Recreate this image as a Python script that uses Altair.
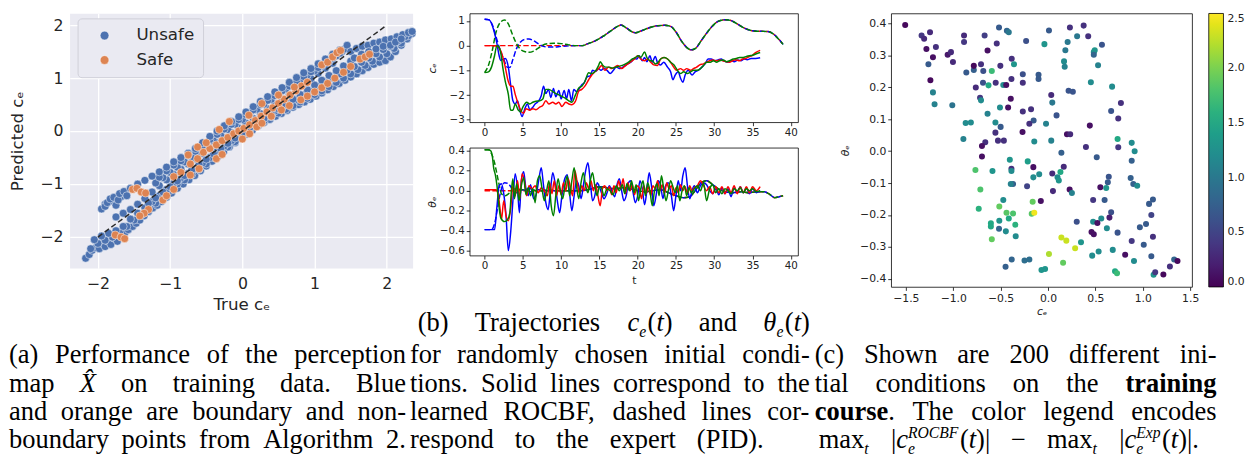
import altair as alt
import pandas as pd

# ======================= DATA =======================
# ---- panel (a): predicted vs true c_e (point bands) ----
unsafe_lower = [(-2.17,-2.40),(-2.12,-2.33),(-2.08,-2.25),(-2.03,-2.20),(-1.98,-2.22),(-1.95,-2.12),(-1.90,-2.18),(-1.86,-2.08),(-1.82,-2.14),(-1.78,-2.02),(-1.73,-2.08),(-1.68,-1.98),(-1.63,-1.93),(-1.58,-1.86),(-1.52,-1.80),(-1.47,-1.74),(-1.42,-1.68),(-1.36,-1.60),(-1.30,-1.52),(-1.24,-1.45),(-1.18,-1.40),(-1.12,-1.33),(-1.05,-1.25),(-0.98,-1.17),(-0.90,-1.08),(-0.82,-1.00),(-0.74,-0.92),(-0.66,-0.84),(-0.58,-0.75),(-0.50,-0.66),(-0.42,-0.57),(-0.34,-0.48),(-0.26,-0.39),(-0.18,-0.30),(-0.10,-0.22),(-0.02,-0.14),(0.06,-0.06),(0.14,0.02),(0.22,0.10),(0.30,0.16),(0.38,0.22),(0.46,0.28),(0.54,0.33),(0.62,0.39),(0.70,0.45),(0.78,0.50),(0.86,0.55),(0.94,0.60),(1.02,0.66),(1.10,0.72),(1.18,0.78),(1.26,0.84),(1.34,0.90),(1.42,0.96),(1.50,1.02),(1.58,1.08),(1.66,1.14),(1.74,1.20),(1.82,1.26),(1.90,1.30),(1.98,1.33),(2.05,1.40),(2.12,1.50),(2.20,1.62),(2.28,1.74),(2.35,1.84)]
unsafe_fill_a = [(-2.10,-2.22),(-2.00,-2.12),(-1.90,-2.06),(-1.80,-2.00),(-1.70,-1.92),(-1.60,-1.80),(-1.50,-1.68),(-1.40,-1.58),(-1.30,-1.46),(-1.20,-1.36),(-1.10,-1.24),(-1.00,-1.12),(-0.90,-1.00),(-0.80,-0.92),(-0.70,-0.82),(-0.60,-0.72),(-0.50,-0.62),(-0.40,-0.50),(-0.30,-0.40),(-0.20,-0.30),(-0.10,-0.20),(0.00,-0.10),(0.10,0.00),(0.20,0.10),(0.30,0.19),(0.40,0.27),(0.50,0.34),(0.60,0.41),(0.70,0.48),(0.80,0.55),(0.90,0.62),(1.00,0.69),(1.10,0.76),(1.20,0.84),(1.30,0.92),(1.40,1.00),(1.50,1.08),(1.60,1.16),(1.70,1.24),(1.80,1.32),(1.90,1.40),(2.00,1.46),(2.10,1.56),(2.20,1.66),(2.30,1.80)]
unsafe_lower2 = [(-2.05,-2.05),(-1.95,-1.98),(-1.85,-1.93),(-1.75,-1.88),(-1.65,-1.80),(-1.55,-1.66),(-1.45,-1.55),(-1.35,-1.45),(-1.25,-1.33),(-1.15,-1.22),(-1.05,-1.10),(-0.95,-0.98),(-0.85,-0.88),(-0.75,-0.80),(-0.65,-0.70),(-0.55,-0.60),(-0.45,-0.50),(-0.35,-0.38),(-0.25,-0.28),(-0.15,-0.18),(-0.05,-0.08),(0.05,0.02),(0.15,0.12),(0.25,0.22),(0.35,0.30),(0.45,0.38),(0.55,0.45),(0.65,0.52),(0.75,0.60),(0.85,0.68),(0.95,0.76),(1.05,0.84),(1.15,0.92),(1.25,1.00),(1.35,1.08),(1.45,1.15),(1.55,1.22),(1.65,1.30),(1.75,1.38),(1.85,1.46),(1.95,1.54),(2.05,1.60),(2.15,1.70),(2.25,1.78)]
unsafe_fill_c = [(-1.30,-1.36),(-1.20,-1.26),(-1.10,-1.15),(-1.00,-1.05),(-0.90,-0.94),(-0.80,-0.84),(-0.70,-0.73),(-0.60,-0.63),(-0.50,-0.53),(-0.40,-0.43),(-0.30,-0.33),(-0.20,-0.23),(-0.10,-0.13),(0.00,-0.03),(0.10,0.06),(0.20,0.15),(0.30,0.24),(0.40,0.33),(0.50,0.42),(0.60,0.51),(0.70,0.60),(0.80,0.69),(0.90,0.78),(1.00,0.87),(1.10,0.96),(1.20,1.05),(1.30,1.14),(1.40,1.23),(1.50,1.32)]
unsafe_mid = [(-1.75,-1.62),(-1.65,-1.55),(-1.55,-1.48),(-1.45,-1.38),(-1.35,-1.27),(-1.25,-1.15),(-1.15,-1.03),(-1.05,-0.92),(-0.95,-0.82),(-0.85,-0.72),(-0.75,-0.62),(-0.65,-0.52),(-0.55,-0.42),(-0.45,-0.32),(-0.35,-0.22),(-0.25,-0.12),(-0.15,-0.03),(-0.05,0.06),(0.05,0.15),(0.15,0.24),(0.25,0.33),(0.35,0.42),(0.45,0.51),(0.55,0.60),(0.65,0.69),(0.75,0.79),(0.85,0.89),(0.95,0.99),(1.05,1.09),(1.15,1.19),(1.25,1.28)]
unsafe_upper2 = [(-1.20,-0.98),(-1.10,-0.88),(-1.00,-0.78),(-0.90,-0.68),(-0.80,-0.58),(-0.70,-0.48),(-0.60,-0.38),(-0.50,-0.28),(-0.40,-0.18),(-0.30,-0.08),(-0.20,0.03),(-0.10,0.13),(0.00,0.22),(0.10,0.31),(0.20,0.41),(0.30,0.51),(0.40,0.60),(0.50,0.69),(0.60,0.79),(0.70,0.88),(0.80,0.97),(0.90,1.06),(1.00,1.14),(1.10,1.23),(1.20,1.32),(1.30,1.42),(1.38,1.50)]
unsafe_fill_b = [(-1.90,-1.38),(-1.80,-1.32),(-1.75,-1.40),(-1.68,-1.24),(-1.62,-1.18),(-1.15,-0.87),(-1.05,-0.75),(-0.95,-0.64),(-0.85,-0.56),(-0.75,-0.46),(-0.65,-0.38),(-0.55,-0.27),(-0.45,-0.16),(-0.35,-0.06),(-0.25,0.04),(-0.15,0.13),(-0.05,0.22),(0.05,0.31),(0.15,0.40),(0.25,0.50),(0.35,0.58),(0.45,0.67),(0.55,0.76),(0.65,0.85),(0.75,0.94),(0.85,1.03),(0.95,1.12),(1.05,1.20),(1.15,1.30),(1.25,1.38),(1.35,1.47),(1.42,1.55)]
unsafe_upper = [(-1.95,-1.47),(-1.90,-1.42),(-1.87,-1.35),(-1.83,-1.28),(-1.78,-1.25),(-1.72,-1.30),(-1.70,-1.18),(-1.64,-1.14),(-1.60,-1.22),(-1.55,-1.08),(-1.45,-1.00),(-1.35,-0.93),(-1.25,-0.85),(-1.15,-0.77),(-1.05,-0.68),(-0.95,-0.58),(-0.85,-0.50),(-0.75,-0.42),(-0.65,-0.33),(-0.55,-0.22),(-0.45,-0.10),(-0.35,0.00),(-0.25,0.10),(-0.15,0.18),(-0.05,0.27),(0.05,0.36),(0.15,0.46),(0.25,0.56),(0.35,0.65),(0.45,0.74),(0.55,0.82),(0.65,0.92),(0.75,1.01),(0.85,1.10),(0.95,1.18),(1.05,1.27),(1.15,1.36),(1.25,1.45),(1.35,1.53),(1.45,1.62)]
unsafe_right = [(1.50,1.50),(1.58,1.56),(1.66,1.60),(1.74,1.62),(1.82,1.66),(1.90,1.68),(1.98,1.72),(2.06,1.74),(2.14,1.78),(2.22,1.82),(2.30,1.86),(2.35,1.88),(1.55,1.38),(1.65,1.45),(1.75,1.50),(1.85,1.55),(1.95,1.60),(2.05,1.62),(2.12,1.68),(2.20,1.74)]
safe_diag = [(-0.95,-0.86),(-0.85,-0.78),(-0.72,-0.62),(-0.62,-0.52),(-0.54,-0.40),(-0.45,-0.33),(-0.36,-0.26),(-0.28,-0.18),(-0.20,-0.12),(-0.12,-0.05),(-0.05,0.00),(0.02,0.05),(0.10,0.12),(0.18,0.20),(0.26,0.28),(0.34,0.36),(0.42,0.44),(0.50,0.52),(0.58,0.60),(0.66,0.68),(0.74,0.76),(0.82,0.85),(0.90,0.92)]
safe_upper = [(-0.75,-0.45),(-0.62,-0.30),(-0.50,-0.22),(-0.32,0.03),(-0.18,0.18),(0.09,0.30),(0.27,0.52),(0.50,0.68),(0.72,0.83),(1.10,1.25),(1.18,1.30),(1.25,1.40),(1.31,1.48),(1.36,1.52)]
safe_lower = [(0.00,-0.15),(0.10,-0.05),(0.20,0.08),(0.27,0.15),(0.40,0.28),(0.54,0.40),(0.65,0.48),(0.81,0.59),(0.90,0.66),(1.00,0.74),(1.10,0.82),(1.18,0.90),(1.28,1.00),(1.40,1.11),(1.50,1.22),(1.63,1.36),(1.70,1.40),(1.76,1.45)]
safe_left = [(-1.52,-1.10),(-1.46,-1.08),(-1.40,-1.15),(-1.34,-1.17),(-1.30,-1.48),(-1.36,-1.55),(-1.42,-1.60),(-1.76,-1.96),(-1.68,-2.00),(-1.63,-2.03),(-1.10,-1.30),(-1.05,-1.22),(-0.95,-1.10),(-0.72,-0.83),(-0.60,-0.71),(-0.36,-0.52),(-0.28,-0.44)]
diag_x = [-2.0, 2.0]
diag_y = [-2.0, 2.0]
classes = ["Unsafe", "Safe"]

# ---- panel (b): trajectories c_e(t), theta_e(t) ----
ce_blue_solid = [(0,1.07),(0.6,1.04),(1.2,0.62),(1.6,0.1),(1.9,-0.41),(2.1,-0.6),(2.4,-0.55),(2.7,-0.52),(3.1,-0.87),(3.4,-1.58),(3.7,-2.23),(4.0,-2.36),(4.3,-2.23),(4.6,-2.61),(4.9,-2.87),(5.2,-2.6),(5.6,-2.36),(5.9,-2.59),(6.3,-2.49),(6.6,-2.36),(6.9,-2.29),(7.4,-2.03),(7.7,-1.64),(8.0,-1.94),(8.35,-1.77),(8.65,-2.1),(9.0,-1.73),(9.3,-2.07),(9.7,-1.81),(10.0,-2.16),(10.4,-1.81),(10.7,-2.16),(11.0,-1.77),(11.35,-2.23),(11.65,-1.77),(12.0,-1.86),(12.3,-1.77),(12.7,-1.58),(13.0,-1.51),(13.4,-1.26),(13.8,-1.22),(14.1,-1.0),(14.5,-1.04),(14.9,-0.93),(15.2,-1.0),(15.6,-0.91),(16.0,-1.0),(16.4,-1.13),(16.8,-1.01),(17.2,-0.87),(17.7,-0.93),(18.2,-0.84),(18.7,-0.74),(19.1,-0.67),(19.6,-0.52),(19.9,-0.54),(20.2,-0.41),(20.6,-0.61),(20.9,-0.48),(21.2,-0.65),(21.6,-0.41),(21.9,-0.67),(22.3,-0.44),(22.6,-0.70),(23.0,-0.78),(23.4,-0.67),(23.9,-0.87),(24.3,-1.06),(24.6,-1.38),(24.9,-1.19),(25.3,-1.06),(25.6,-1.32),(25.9,-1.48),(26.2,-1.19),(26.6,-1.0),(27.1,-1.19),(27.5,-1.06),(27.9,-1.0),(28.4,-0.87),(28.8,-0.74),(29.2,-0.54),(29.6,-0.54),(30.1,-0.61),(30.5,-0.58),(30.9,-0.54),(31.3,-0.63),(31.8,-0.67),(32.2,-0.61),(32.6,-0.65),(33.1,-0.58),(33.5,-0.61),(33.9,-0.54),(34.3,-0.57),(34.8,-0.52),(35.4,-0.52),(36.0,-0.49)]
ce_red_solid = [(0,0.0),(0.8,0.0),(1.6,-0.02),(2.2,-0.28),(2.65,-0.8),(3.1,-1.45),(3.4,-1.64),(3.7,-1.64),(4.0,-1.97),(4.4,-2.36),(4.7,-2.61),(5.1,-2.74),(5.4,-2.55),(5.9,-2.61),(6.3,-2.55),(6.7,-2.59),(7.2,-2.49),(7.6,-2.42),(8.0,-2.23),(8.4,-2.36),(8.9,-2.29),(9.3,-2.36),(9.7,-2.29),(10.1,-2.46),(10.6,-2.29),(11.0,-2.36),(11.4,-2.39),(11.9,-2.23),(12.3,-1.84),(12.7,-1.77),(13.1,-1.64),(13.6,-1.38),(14.0,-1.19),(14.4,-1.06),(14.9,-0.93),(15.3,-0.80),(15.7,-1.0),(16.2,-0.87),(16.6,-0.93),(17.0,-0.87),(17.4,-0.80),(17.9,-0.93),(18.3,-0.84),(18.7,-0.74),(19.1,-0.65),(19.6,-0.54),(20.0,-0.41),(20.4,-0.54),(20.9,-0.61),(21.3,-0.54),(21.7,-0.67),(22.1,-0.78),(22.6,-0.80),(23.0,-0.54),(23.4,-0.48),(23.9,-0.54),(24.3,-0.67),(24.7,-0.87),(25.1,-1.0),(25.6,-0.93),(26.0,-1.0),(26.4,-0.93),(26.9,-1.0),(27.3,-0.93),(27.7,-0.87),(28.1,-0.78),(28.6,-0.74),(29.0,-0.67),(29.4,-0.61),(29.8,-0.58),(30.3,-0.61),(30.7,-0.58),(31.1,-0.61),(31.6,-0.65),(32.0,-0.67),(32.4,-0.61),(32.8,-0.57),(33.3,-0.61),(33.7,-0.54),(34.1,-0.52),(34.6,-0.44),(35.0,-0.39),(35.4,-0.28),(36.0,-0.19)]
ce_green_solid = [(0,-1.09),(0.5,-1.06),(0.9,-0.87),(1.3,-0.41),(1.6,0.0),(1.8,-0.03),(2.1,-0.28),(2.4,-0.93),(2.7,-1.45),(3.1,-1.97),(3.4,-2.61),(3.7,-2.61),(4.0,-2.36),(4.4,-2.61),(4.7,-2.68),(5.0,-2.49),(5.5,-2.29),(5.9,-2.36),(6.3,-2.29),(6.7,-2.25),(7.2,-2.23),(7.6,-2.16),(8.0,-1.77),(8.4,-1.77),(8.9,-1.86),(9.3,-1.94),(9.7,-1.99),(10.2,-2.07),(10.6,-2.14),(11.0,-2.23),(11.4,-2.29),(11.9,-1.97),(12.3,-1.71),(12.7,-1.64),(13.1,-1.45),(13.6,-1.10),(14.0,-1.13),(14.4,-1.06),(14.9,-0.80),(15.1,-0.65),(15.4,-0.78),(15.8,-0.87),(16.3,-0.87),(16.7,-0.91),(17.1,-0.87),(17.5,-0.84),(18.0,-0.80),(18.4,-0.74),(18.8,-0.67),(19.3,-0.54),(19.7,-0.48),(20.1,-0.41),(20.4,-0.48),(20.9,-0.26),(21.2,-0.48),(21.6,-0.61),(21.9,-0.61),(22.3,-0.74),(22.6,-0.70),(23.0,-0.54),(23.5,-0.48),(23.9,-0.54),(24.3,-0.67),(24.75,-0.78),(25.2,-1.0),(25.6,-1.13),(26.0,-1.06),(26.5,-1.13),(26.9,-1.06),(27.3,-1.0),(27.75,-1.0),(28.2,-0.93),(28.6,-0.80),(29.0,-0.67),(29.5,-0.67),(29.9,-0.61),(30.3,-0.67),(30.7,-0.61),(31.2,-0.58),(31.6,-0.65),(32.0,-0.61),(32.5,-0.54),(32.9,-0.52),(33.3,-0.48),(33.8,-0.48),(34.2,-0.44),(34.6,-0.41),(35.0,-0.39),(35.6,-0.32),(36.0,-0.28)]
ce_red_dash_head = [(0,0.0),(12.0,0.0)]
ce_blue_dash_head = [(0,1.07),(0.5,1.05),(1.0,0.85),(1.5,0.35),(2.0,-0.15),(2.5,-0.55),(3.0,-0.88),(3.3,-0.88),(3.7,-0.55),(4.2,-0.10),(4.7,0.15),(5.2,0.25),(5.8,0.27),(6.4,0.20),(7.0,0.08),(7.6,-0.02),(8.3,-0.06),(9.0,-0.06),(10.0,-0.03),(11.0,-0.01),(12.0,0.0)]
ce_green_dash_head = [(0,-1.09),(0.5,-0.8),(1.0,-0.2),(1.5,0.55),(2.0,0.92),(2.6,1.04),(3.1,0.88),(3.6,0.48),(4.1,0.12),(4.6,-0.12),(5.2,-0.24),(5.8,-0.27),(6.4,-0.22),(7.0,-0.10),(7.6,0.02),(8.3,0.08),(9.0,0.10),(10.0,0.08),(11.0,0.03),(12.0,0.0)]
ce_dash_tail = [(12.8,0.0),(13.5,0.08),(14.5,0.2),(15.5,0.38),(16.5,0.6),(17.5,0.8),(17.8,0.83),(18.5,0.72),(19.3,0.55),(19.7,0.52),(20.5,0.6),(21.5,0.72),(22.5,0.8),(23.5,0.82),(24.3,0.78),(25.0,0.55),(25.8,0.15),(26.5,-0.1),(27.0,-0.17),(27.6,-0.1),(28.3,0.2),(29.0,0.5),(29.8,0.8),(30.5,0.98),(31.5,1.05),(32.3,1.0),(33.0,0.88),(34.0,0.7),(35.0,0.6),(36.0,0.58),(37.0,0.57),(37.6,0.5),(38.3,0.3),(39.0,0.05)]

th_blue_solid = [(0,-0.39),(0.5,-0.39),(1.0,-0.39),(1.3,-0.39),(1.6,-0.17),(1.9,0.05),(2.2,0.07),(2.5,-0.03),(2.8,-0.25),(3.1,-0.60),(3.4,-0.42),(3.7,-0.10),(4.0,0.17),(4.3,0.02),(4.55,-0.22),(4.8,0.10),(5.1,0.19),(5.4,0.02),(5.7,-0.05),(6.0,0.06),(6.4,-0.08),(6.8,-0.02),(7.1,0.12),(7.4,0.23),(7.7,0.05),(8.0,-0.12),(8.3,-0.19),(8.6,0.0),(8.9,0.18),(9.2,0.08),(9.5,-0.10),(9.8,-0.22),(10.1,-0.05),(10.4,0.10),(10.8,0.16),(11.1,-0.02),(11.4,-0.20),(11.7,-0.05),(12.0,0.10),(12.3,0.05),(12.6,-0.08),(12.9,0.05),(13.2,0.20),(13.5,0.28),(13.8,0.10),(14.1,-0.10),(14.4,-0.05),(14.7,0.08),(15.0,0.04),(15.3,-0.03),(15.6,-0.08),(16.0,-0.02),(16.3,0.05),(16.6,0.0),(17.0,-0.06),(17.3,0.06),(17.6,0.12),(17.9,0.0),(18.2,-0.10),(18.5,-0.05),(18.8,0.08),(19.1,0.10),(19.4,-0.02),(19.7,-0.12),(20.0,-0.05),(20.3,0.10),(20.6,0.02),(20.9,-0.14),(21.2,0.0),(21.5,0.18),(21.8,0.05),(22.1,-0.15),(22.4,-0.05),(22.7,0.10),(23.0,0.05),(23.3,-0.08),(23.6,0.04),(24.0,0.08),(24.4,-0.05),(24.7,-0.20),(25.0,-0.05),(25.3,0.10),(25.6,0.0),(25.9,0.15),(26.2,0.23),(26.5,0.05),(26.8,-0.08),(27.1,0.0),(27.4,0.05),(27.8,-0.02),(28.2,0.05),(28.6,0.08),(29.0,0.06),(29.4,0.0),(29.8,-0.03),(30.2,0.02),(30.6,-0.04),(31.0,0.03),(31.4,-0.03),(31.8,0.02),(32.2,-0.06),(32.6,0.03),(33.0,-0.02),(33.4,0.04),(33.8,-0.02),(34.2,0.03),(34.6,-0.03),(35.0,0.02),(35.5,-0.02),(36.0,0.0)]
th_red_solid = [(0,0.01),(0.5,0.01),(1.0,0.01),(1.5,0.01),(1.8,-0.05),(2.0,-0.17),(2.2,-0.29),(2.5,-0.10),(2.8,-0.25),(3.1,-0.30),(3.4,-0.18),(3.7,0.05),(4.0,-0.05),(4.3,0.10),(4.6,-0.08),(4.9,0.17),(5.2,0.10),(5.5,-0.05),(5.8,0.05),(6.2,0.02),(6.6,0.05),(7.0,-0.02),(7.4,0.03),(7.8,0.0),(8.2,-0.05),(8.5,0.08),(8.8,-0.03),(9.1,0.10),(9.4,-0.05),(9.7,0.05),(10.0,-0.04),(10.3,0.08),(10.6,0.0),(10.9,0.12),(11.2,0.04),(11.5,-0.05),(11.8,0.20),(12.1,0.08),(12.4,-0.03),(12.7,0.05),(13.0,0.0),(13.3,0.08),(13.6,0.02),(13.9,0.10),(14.2,0.0),(14.5,0.06),(14.8,-0.05),(15.1,-0.15),(15.4,0.02),(15.7,0.05),(16.0,0.0),(16.3,0.04),(16.6,-0.04),(16.9,0.05),(17.2,-0.02),(17.5,0.10),(17.8,0.02),(18.1,0.12),(18.4,-0.03),(18.7,0.08),(19.0,0.0),(19.3,0.06),(19.6,-0.04),(19.9,0.05),(20.2,0.03),(20.5,-0.08),(20.8,0.05),(21.1,-0.03),(21.4,0.04),(21.7,-0.05),(22.0,0.05),(22.3,0.02),(22.6,0.10),(22.9,0.0),(23.2,0.06),(23.5,-0.03),(23.8,0.08),(24.1,0.02),(24.4,0.05),(24.7,-0.05),(25.0,0.03),(25.3,-0.02),(25.6,0.06),(25.9,0.0),(26.2,0.04),(26.5,-0.03),(26.8,0.05),(27.1,0.0),(27.4,0.03),(27.8,0.05),(28.2,0.10),(28.6,0.05),(29.0,0.0),(29.4,0.04),(29.8,-0.03),(30.2,0.04),(30.6,-0.02),(31.0,0.04),(31.4,-0.03),(31.8,0.04),(32.2,-0.02),(32.6,0.05),(33.0,-0.03),(33.4,0.04),(33.8,-0.02),(34.2,0.04),(34.6,-0.02),(35.0,0.04),(35.5,0.0),(36.0,0.04)]
th_green_solid = [(0,0.41),(0.5,0.41),(0.8,0.40),(1.0,0.35),(1.2,0.22),(1.4,0.16),(1.6,0.06),(1.9,-0.17),(2.1,-0.27),(2.6,-0.31),(3.0,-0.29),(3.3,-0.22),(3.5,0.0),(3.7,0.12),(3.9,-0.08),(4.2,0.07),(4.5,-0.10),(4.8,0.05),(5.1,0.13),(5.4,-0.04),(5.7,0.03),(6.0,-0.05),(6.3,0.02),(6.6,-0.12),(6.9,0.10),(7.2,0.15),(7.5,0.02),(7.8,-0.10),(8.1,0.0),(8.4,0.10),(8.7,-0.15),(9.0,-0.25),(9.3,-0.05),(9.6,0.12),(9.9,0.0),(10.2,-0.08),(10.5,0.05),(10.8,0.15),(11.1,-0.05),(11.4,0.10),(11.7,0.23),(12.0,0.05),(12.3,-0.08),(12.6,0.08),(12.9,0.18),(13.2,0.05),(13.5,-0.02),(13.8,0.10),(14.1,0.18),(14.4,0.05),(14.7,-0.05),(15.0,0.04),(15.3,0.02),(15.6,-0.05),(16.0,0.02),(16.4,0.0),(16.8,-0.04),(17.2,0.05),(17.6,0.0),(18.0,0.06),(18.3,-0.03),(18.6,0.07),(18.9,0.0),(19.2,0.10),(19.5,-0.02),(19.8,0.06),(20.1,-0.10),(20.4,0.02),(20.7,0.10),(21.0,-0.05),(21.3,0.08),(21.6,0.0),(21.9,-0.15),(22.2,0.0),(22.5,0.07),(22.8,-0.05),(23.1,0.15),(23.4,0.02),(23.7,-0.10),(24.0,0.0),(24.3,0.10),(24.6,0.04),(24.9,-0.02),(25.2,0.05),(25.5,-0.10),(25.8,0.0),(26.1,0.05),(26.4,-0.05),(26.7,0.03),(27.0,-0.02),(27.4,0.02),(27.8,0.05),(28.2,0.0),(28.6,0.08),(29.0,-0.10),(29.4,0.02),(29.8,0.06),(30.2,-0.02),(30.6,0.02),(31.0,-0.03),(31.4,0.02),(31.8,0.0),(32.2,-0.03),(32.6,0.02),(33.0,0.0),(33.4,0.03),(33.8,-0.02),(34.2,0.02),(34.6,0.0),(35.0,0.02),(35.5,-0.01),(36.0,0.0)]
th_red_dash_head = [(0,0.0),(12.0,0.0)]
th_blue_dash_head = [(0,-0.39),(0.9,-0.39),(1.4,-0.30),(1.7,-0.17),(2.1,-0.01),(2.6,0.08),(3.1,0.07),(3.6,0.02),(4.2,-0.02),(5.0,0.01),(6.0,-0.01),(7.0,0.01),(8.0,0.0),(10.0,0.0),(12.0,0.0)]
th_green_dash_head = [(0,0.41),(0.5,0.41),(0.9,0.37),(1.3,0.28),(1.6,0.17),(1.9,0.06),(2.2,-0.03),(2.7,-0.05),(3.3,-0.02),(4.0,0.02),(5.0,0.01),(6.0,0.02),(7.0,-0.01),(8.0,0.01),(10.0,0.0),(12.0,0.0)]
th_dash_tail = [(12.5,0.0),(14.0,0.02),(15.0,0.04),(16.0,0.03),(17.0,0.02),(18.0,0.03),(19.0,0.02),(20.0,0.0),(21.0,-0.01),(22.0,0.0),(23.0,0.01),(24.0,-0.02),(25.0,-0.05),(26.0,-0.07),(26.8,-0.06),(27.5,0.0),(28.3,0.08),(29.0,0.10),(29.8,0.06),(30.5,0.02),(31.5,-0.01),(32.5,-0.02),(33.5,-0.01),(34.5,-0.02),(35.5,-0.01),(36.5,-0.01),(37.3,-0.04),(37.9,-0.07),(38.5,-0.06),(39.0,-0.05)]

# ---- panel (c): 200 initial conditions (c_e, theta_e, colour value) ----
c_points = [(-1.507,0.395,0.05),(-1.334,0.362,0.4),(-1.307,0.352,0.3),(-1.245,0.372,0.3),(-1.283,0.320,0.1),(-1.183,0.326,0.35),(-1.214,0.294,0.1),(-1.262,0.272,0.7),(-1.059,0.302,0.15),(-1.024,0.310,0.3),(-1.003,0.279,0.3),(-1.241,0.222,0.05),(-1.214,0.184,1.1),(-1.197,0.147,1.1),(-1.010,0.144,0.95),(-0.886,0.362,0.3),(-0.886,0.342,0.4),(-0.862,0.246,0.7),(-0.783,0.254,0.75),(-0.783,0.267,0.05),(-0.707,0.272,0.35),(-0.762,0.199,0.3),(-0.717,0.167,0.4),(-0.707,0.159,1.2),(-0.683,0.251,0.6),(-0.686,0.214,0.6),(-0.669,0.362,0.45),(-0.638,0.315,0.1),(-0.593,0.251,1.7),(-0.628,0.206,1.5),(-0.541,0.337,0.35),(-0.517,0.387,0.7),(-0.503,0.267,0.35),(-0.552,0.214,0.35),(-0.472,0.207,1.2),(-0.441,0.207,0.1),(-0.434,0.377,0.8),(-0.414,0.372,1.0),(-0.383,0.289,0.35),(-0.359,0.272,1.3),(-0.386,0.226,0.35),(-0.393,0.164,0.1),(-0.421,0.137,0.1),(-0.507,0.137,1.2),(-0.638,0.117,1.1),(-0.869,0.088,1.2),(-0.814,0.090,1.2),(-0.893,0.038,1.1),(-0.555,0.090,1.2),(-0.500,0.076,0.7),(-0.555,0.058,0.35),(-0.528,0.033,0.35),(-0.466,0.033,0.35),(-0.662,0.028,0.35),(-0.697,0.016,0.1),(-0.697,-0.017,0.1),(-0.766,-0.059,1.8),(-0.714,-0.120,1.8),(-0.731,-0.180,1.6),(-0.586,-0.062,1.3),(-0.403,-0.027,1.3),(-0.386,-0.055,0.35),(-0.386,-0.062,1.2),(-0.369,-0.103,0.75),(-0.393,-0.103,1.1),(-0.472,-0.153,1.2),(-0.514,-0.173,1.9),(-0.603,-0.226,1.5),(-0.603,-0.236,1.5),(-0.514,-0.218,1.3),(-0.517,-0.243,0.8),(-0.593,-0.276,1.9),(-0.438,-0.193,1.85),(-0.414,-0.211,1.5),(-0.369,-0.195,1.8),(-0.345,-0.230,1.6),(-0.445,-0.251,1.2),(-0.341,-0.266,1.2),(-0.383,-0.339,0.8),(-0.448,-0.362,0.75),(-0.248,-0.342,0.9),(-0.197,-0.339,0.9),(-0.155,-0.050,0.1),(-0.214,-0.032,1.4),(-0.155,-0.082,1.2),(-0.221,-0.110,0.5),(-0.162,-0.158,1.9),(-0.172,-0.196,1.85),(-0.145,-0.193,2.45),(-0.076,-0.156,0.1),(-0.093,-0.072,1.2),(-0.269,0.060,0.1),(-0.145,0.030,1.2),(-0.152,0.096,0.7),(-0.197,0.086,0.35),(-0.266,0.124,0.35),(-0.179,0.131,0.35),(-0.266,0.214,0.35),(-0.266,0.241,0.6),(-0.231,0.345,0.6),(-0.100,0.239,0.7),(-0.100,0.226,0.7),(-0.038,0.335,1.3),(0.010,0.378,0.7),(-0.021,0.086,1.1),(0.034,0.033,1.1),(0.034,0.176,0.3),(0.045,0.152,1.0),(0.090,0.112,0.65),(0.141,-0.005,0.75),(0.166,-0.049,0.3),(0.045,-0.070,0.3),(0.100,-0.082,1.2),(0.114,-0.092,1.3),(0.131,-0.065,1.5),(0.052,-0.125,0.3),(0.228,-0.120,0.1),(0.252,-0.131,1.1),(0.141,-0.270,2.3),(0.193,-0.280,2.3),(0.286,-0.304,2.3),(0.010,-0.322,2.2),(0.159,-0.349,1.9),(-0.069,-0.372,1.3),(-0.031,-0.369,1.3),(0.169,0.281,1.2),(0.176,0.264,1.1),(0.183,0.316,1.0),(0.207,0.342,1.0),(0.231,0.387,0.35),(0.307,0.360,1.0),(0.376,0.393,0.35),(0.424,0.360,0.35),(0.217,0.189,0.65),(0.262,0.186,0.65),(0.200,0.053,0.1),(0.234,0.053,0.3),(0.303,-0.221,0.6),(0.348,-0.285,1.3),(0.441,0.080,0.1),(0.400,0.013,0.35),(0.483,0.310,1.2),(0.493,0.316,1.3),(0.483,0.302,0.8),(0.569,0.333,0.65),(0.528,0.269,1.1),(0.452,0.216,1.2),(0.676,0.202,1.2),(0.514,-0.019,0.7),(0.552,-0.113,0.1),(0.614,-0.115,1.3),(0.631,-0.097,0.7),(0.641,-0.080,0.65),(0.666,-0.191,0.6),(0.648,-0.208,0.2),(0.562,-0.211,1.2),(0.597,-0.153,0.7),(0.476,-0.153,0.4),(0.476,-0.221,1.2),(0.521,-0.225,0.1),(0.459,-0.253,0.1),(0.483,-0.260,0.1),(0.621,-0.241,1.2),(0.534,-0.314,1.2),(0.466,-0.327,1.2),(0.683,-0.309,1.2),(0.707,-0.376,1.5),(0.728,-0.382,1.7),(0.734,-0.255,0.65),(0.666,0.126,0.65),(0.741,0.102,0.35),(0.769,0.151,0.35),(0.734,0.038,1.5),(0.741,0.012,0.4),(0.883,0.026,1.2),(0.914,0.000,1.2),(0.883,-0.030,0.75),(0.872,-0.084,0.75),(0.900,-0.103,0.75),(0.941,-0.108,1.2),(0.883,-0.281,0.4),(0.814,-0.324,0.1),(0.907,-0.344,1.2),(0.969,-0.238,0.7),(1.010,-0.293,0.7),(1.034,-0.228,0.7),(1.066,-0.165,0.7),(1.107,-0.151,0.7),(1.090,-0.200,0.5),(1.107,-0.268,0.35),(1.090,-0.329,0.7),(1.114,-0.387,1.3),(1.131,-0.379,0.4),(1.217,-0.386,0.05),(1.286,-0.361,0.35),(1.331,-0.339,0.8),(1.366,-0.344,0.05)]

# tick values
a_ticks = [-2, -1, 0, 1, 2]
b_xticks = [0, 5, 10, 15, 20, 25, 30, 35, 40]
b_ce_ticks = [-3, -2, -1, 0, 1]
b_th_ticks = [-0.6, -0.4, -0.2, 0.0, 0.2, 0.4]
c_xticks = [-1.5, -1.0, -0.5, 0.0, 0.5, 1.0, 1.5]
c_yticks = [-0.4, -0.3, -0.2, -0.1, 0.0, 0.1, 0.2, 0.3, 0.4]
c_legend_ticks = [0.0, 0.5, 1.0, 1.5, 2.0, 2.5]

# ---- caption text, one entry per printed line: (row, words) ----
# a word is either a plain string or a list of (text, style) pieces;
# a 4-tuple piece stacks a subscript under a superscript.
caption_a = [
    (1, "(a) Performance of the perception".split()),
    (2, ["map", [("X\u0302", "i")], "on", "training", "data.", "Blue"]),
    (3, "and orange are boundary and non-".split()),
    (4, "boundary points from Algorithm 2.".split()),
]
caption_b = [
    (0, ["(b)", "Trajectories", [("c", "i"), ("e", "sub"), ("(", "n"), ("t", "i"), (")", "n")], "and",
         [("θ", "i"), ("e", "sub"), ("(", "n"), ("t", "i"), (")", "n")]]),
    (1, "for randomly chosen initial condi-".split()),
    (2, "tions. Solid lines correspond to the".split()),
    (3, "learned ROCBF, dashed lines cor-".split()),
    (4, "respond to the expert (PID).".split()),
]
caption_c = [
    (1, "(c) Shown are 200 different ini-".split()),
    (2, ["tial", "conditions", "on", "the", [("training", "b")]]),
    (3, [[("course", "b"), (".", "n")], "The", "color", "legend", "encodes"]),
    (4, [[("max", "n"), ("t", "sub")],
         [("|", "n"), ("c", "i"), ("e", "sub", "ROCBF", "sup"), ("(", "n"), ("t", "i"), (")|", "n")],
         [("\u2212", "n")],
         [("max", "n"), ("t", "sub")],
         [("|", "n"), ("c", "i"), ("e", "sub", "Exp", "sup"), ("(", "n"), ("t", "i"), (")|.", "n")]]),
]

# ======================= LAYOUT / STYLE =======================
SANS = "DejaVu Sans"
SERIF = "Liberation Serif"
DARK = "#262626"
MPL = "#222222"
CAP_SIZE, SCRIPT_SIZE = 27, 16
CAP_BASE = [332, 365, 394, 423, 451]          # baselines of caption rows (page px)
SCRIPT_DY = {"sub": 6, "sup": -10}
SCRIPT_GAP = 1.5
# column extents (page px) per caption row: (x_start, x_end)
COL_A = {1: (8, 413), 2: (8, 413), 3: (8, 413), 4: (8, 413)}
COL_B = {0: (425, 825), 1: (417, 825), 2: (417, 825), 3: (417, 825), 4: (417, 778)}
COL_C = {1: (830, 1240), 2: (830, 1240), 3: (830, 1240), 4: (834, 1222)}
PAGE_MARGIN = 8
PLOT_A_LEFT = 70   # page x of panel (a) plot origin (caption chart shares it)
CAP_TOP = 300      # page y of caption chart origin

# approximate Times-compatible advance widths (1/1000 em)
_lw = [444,500,444,500,444,333,500,500,278,278,500,278,778,500,500,500,500,333,389,278,500,500,722,500,500,444]
_uw = [722,667,667,722,611,556,722,722,333,389,722,611,889,722,722,556,722,667,556,611,722,722,944,722,722,611]
TR = {c: w for c, w in zip("abcdefghijklmnopqrstuvwxyz", _lw)}
TR.update({c: w for c, w in zip("ABCDEFGHIJKLMNOPQRSTUVWXYZ", _uw)})
TR.update({d: 500 for d in "0123456789"})
TR.update({"(": 333, ")": 333, ".": 250, ",": 250, "-": 333, "|": 200, " ": 250, "\u2212": 564, "\u0302": 0})
TI = dict(TR); TI.update({"c": 444, "e": 444, "t": 278, "X": 611, "θ": 500, "R": 611, "O": 722, "C": 667,
                          "B": 611, "F": 611, "E": 611, "x": 444, "p": 500})
TB = dict(TR); TB.update({"t": 333, "r": 444, "a": 500, "i": 278, "n": 556, "g": 500, "c": 444, "o": 500,
                          "u": 556, "s": 389, "e": 444})
TABLE = {"n": TR, "i": TI, "b": TB, "sub": TI, "sup": TI}


def piece_width(text, style):
    size = SCRIPT_SIZE if style in ("sub", "sup") else CAP_SIZE
    w = sum(TABLE[style].get(ch, 500) for ch in text) * size / 1000.0
    return w + (SCRIPT_GAP if style in ("sub", "sup") else 0.0)


def word_pieces(word):
    if isinstance(word, str):
        word = [(word, "n")]
    out, x = [], 0.0
    for pc in word:
        if len(pc) == 4:
            out.append((x, pc[0], pc[1]))
            out.append((x, pc[2], pc[3]))
            x += max(piece_width(pc[0], pc[1]), piece_width(pc[2], pc[3]))
        else:
            out.append((x, pc[0], pc[1]))
            x += piece_width(pc[0], pc[1])
    return out, x


cap_rows = []
for lines, cols in [(caption_a, COL_A), (caption_b, COL_B), (caption_c, COL_C)]:
    for row, words in lines:
        x0, x1 = cols[row]
        laid = [word_pieces(w) for w in words]
        natural = sum(w for _, w in laid)
        gap = (x1 - x0 - natural) / max(len(laid) - 1, 1)
        x = x0
        for pieces, w in laid:
            for dx, txt, st in pieces:
                cap_rows.append({"x": x + dx, "y": CAP_BASE[row] + SCRIPT_DY.get(st, 0), "text": txt, "style": st})
            x += w + gap
dfCap = pd.DataFrame(cap_rows)

# ---------------- panel (a) ----------------
rowsA = []
for band in [unsafe_lower, unsafe_fill_a, unsafe_lower2, unsafe_fill_c, unsafe_mid, unsafe_upper2,
             unsafe_fill_b, unsafe_upper, unsafe_right]:
    rowsA += [{"x": p[0], "y": p[1], "cls": classes[0]} for p in band]
for band in [safe_diag, safe_upper, safe_lower, safe_left]:
    rowsA += [{"x": p[0], "y": p[1], "cls": classes[1]} for p in band]
dfA = pd.DataFrame(rowsA)
dfDiag = pd.DataFrame({"x": diag_x, "y": diag_y})

axA = dict(values=a_ticks, grid=True, gridColor="white", gridWidth=1.3, domain=False, ticks=False,
           labelFontSize=16, labelColor=DARK, labelFont=SANS, titleFont=SANS, titleFontSize=17,
           titleFontWeight="normal", titleColor=DARK, labelFlush=False, labelOverlap=False)
xA = alt.X("x:Q", scale=alt.Scale(domain=[-2.39, 2.36], nice=False, zero=False),
           axis=alt.Axis(title="True cₑ", labelPadding=8, titlePadding=5, **axA))
yA = alt.Y("y:Q", scale=alt.Scale(domain=[-2.59, 2.22], nice=False, zero=False),
           axis=alt.Axis(title="Predicted cₑ", labelPadding=7, titlePadding=13, minExtent=31, maxExtent=31, **axA))
scatterA = alt.Chart(dfA).mark_circle(size=66, opacity=1, stroke="white", strokeWidth=0.5).encode(
    x=xA, y=yA,
    color=alt.Color("cls:N", scale=alt.Scale(domain=classes, range=["#4C72B0", "#DD8452"]),
                    legend=alt.Legend(title=None, orient="none", legendX=8, legendY=5, direction="vertical",
                                      fillColor="#EAEAF2", strokeColor="#CFCFD8", cornerRadius=4, padding=9,
                                      labelFontSize=17, labelFont=SANS, labelColor=DARK, symbolSize=80,
                                      symbolType="circle", rowPadding=7, labelOffset=24, symbolOffset=10,
                                      symbolStrokeColor="white", symbolStrokeWidth=0.5, symbolOpacity=1)))
diagA = alt.Chart(dfDiag).mark_line(color="#2b2b2b", strokeDash=[5.5, 3], strokeWidth=1.5).encode(x=xA, y=yA)
panelA = alt.layer(scatterA, diagA).properties(width=350, height=260,
                                               view=alt.ViewBackground(fill="#EAEAF2", stroke="transparent"))

# ---------------- panel (b) ----------------
axB = dict(grid=False, domain=False, ticks=True, tickSize=3.5, tickWidth=0.8, tickColor="#000000",
           labelFontSize=10.5, labelColor=MPL, labelFont=SANS, labelPadding=2, titleFont=SANS,
           titleFontSize=11, titleFontWeight="normal", titleColor=MPL, labelOverlap=False)


def traj_panel(series, ydom, yticks, ytitle, xtitle, height, yfmt):
    xB = alt.X("t:Q", scale=alt.Scale(domain=[-1.95, 40.95], nice=False, zero=False),
               axis=alt.Axis(values=b_xticks, title=xtitle, labelFlush=False, titlePadding=3, **axB))
    yB = alt.Y("v:Q", scale=alt.Scale(domain=ydom, nice=False, zero=False),
               axis=alt.Axis(values=yticks, title=ytitle, format=yfmt, titleFontStyle="italic",
                             minExtent=27, maxExtent=27, titlePadding=6, **axB))
    layers = []
    for pts, col, dashed in series:
        df = pd.DataFrame({"t": [p[0] for p in pts], "v": [p[1] for p in pts]})
        kw = dict(color=col, strokeWidth=1.5, interpolate="monotone", clip=True)
        if dashed:
            kw["strokeDash"] = [5.5, 2.4]
        layers.append(alt.Chart(df).mark_line(**kw).encode(x=xB, y=yB))
    return alt.layer(*layers).properties(width=335, height=height)


BLUE, RED, GREEN = "#0000FF", "#FF0000", "#008000"
ce_series = [
    (ce_red_dash_head + ce_dash_tail, RED, True),
    (ce_blue_dash_head + ce_dash_tail, BLUE, True),
    (ce_green_dash_head + ce_dash_tail, GREEN, True),
    (ce_blue_solid, BLUE, False),
    (ce_red_solid, RED, False),
    (ce_green_solid, GREEN, False),
]
th_series = [
    (th_red_dash_head + th_dash_tail, RED, True),
    (th_blue_dash_head + th_dash_tail, BLUE, True),
    (th_green_dash_head + th_dash_tail, GREEN, True),
    (th_blue_solid, BLUE, False),
    (th_red_solid, RED, False),
    (th_green_solid, GREEN, False),
]
bTop = traj_panel(ce_series, [-3.1, 1.3], b_ce_ticks, "cₑ", None, 111, "d")
bBot = traj_panel(th_series, [-0.65, 0.43], b_th_ticks, "θₑ", "t", 110, ".1f")
panelB = alt.vconcat(bTop, bBot, spacing=6)

# ---------------- panel (c) ----------------
dfC = pd.DataFrame({"ce": [p[0] for p in c_points], "th": [p[1] for p in c_points], "val": [p[2] for p in c_points]})
axC = dict(grid=False, domain=False, ticks=True, tickSize=3.5, tickWidth=0.8, tickColor="#000000",
           labelFontSize=11, labelColor=MPL, labelFont=SANS, labelPadding=2, titleFont=SANS,
           titleFontSize=11, titleFontWeight="normal", titleColor=MPL, labelOverlap=False, format=".1f",
           titleFontStyle="italic")
panelC = alt.Chart(dfC).mark_circle(size=38, opacity=1).encode(
    x=alt.X("ce:Q", scale=alt.Scale(domain=[-1.655, 1.52], nice=False, zero=False),
            axis=alt.Axis(values=c_xticks, title="cₑ", labelFlush=False, titlePadding=3, **axC)),
    y=alt.Y("th:Q", scale=alt.Scale(domain=[-0.425, 0.431], nice=False, zero=False),
            axis=alt.Axis(values=c_yticks, title="θₑ", minExtent=31, maxExtent=31, titlePadding=11, **axC)),
    color=alt.Color("val:Q", scale=alt.Scale(scheme="viridis", domain=[0, 2.5], nice=False, zero=False),
                    legend=alt.Legend(title=None, orient="right", offset=17, padding=0, direction="vertical",
                                      gradientLength=279, gradientThickness=15, values=c_legend_ticks,
                                      format=".1f", labelFontSize=11, labelFont=SANS, labelColor=MPL,
                                      labelOffset=4, labelOverlap=False, gradientStrokeColor="#000000",
                                      gradientStrokeWidth=0.8)),
).properties(width=307, height=279)

# ---------------- captions (chart origin shared with panel (a) plot origin) ----------------
xs = alt.X("x:Q", scale=alt.Scale(domain=[PLOT_A_LEFT, 1254], range=[0, 1254 - PLOT_A_LEFT], nice=False, zero=False), axis=None)
ys = alt.Y("y:Q", scale=alt.Scale(domain=[CAP_TOP, CAP_TOP + 140], range=[0, 140], nice=False, zero=False), axis=None)


def cap_layer(style, **kw):
    return alt.Chart(dfCap).transform_filter(alt.datum.style == style).mark_text(
        align="left", baseline="alphabetic", font=SERIF, color="#000000", **kw).encode(x=xs, y=ys, text="text:N")


captions = alt.layer(
    cap_layer("n", fontSize=CAP_SIZE),
    cap_layer("i", fontSize=CAP_SIZE, fontStyle="italic"),
    cap_layer("b", fontSize=CAP_SIZE, fontWeight="bold"),
    cap_layer("sub", fontSize=SCRIPT_SIZE, fontStyle="italic"),
    cap_layer("sup", fontSize=SCRIPT_SIZE, fontStyle="italic"),
).properties(width=1100, height=140, view=alt.ViewBackground(stroke="transparent"))

# ---------------- assemble ----------------
row = alt.hconcat(alt.hconcat(panelA, panelB, spacing=8), panelC, spacing=40)
# flush bounds: the caption block is placed by its origin, CAP_TOP - margin below the top row origin
chart = alt.vconcat(row, captions, spacing=CAP_TOP - PAGE_MARGIN, bounds="flush").properties(padding=0).configure(
    font=SANS).configure_view(stroke="#000000", strokeWidth=0.8).configure_legend(
    gradientVerticalMaxLength=400, gradientVerticalMinLength=10)

chart.save("out.html", embed_options={"renderer": "svg", "actions": False})
